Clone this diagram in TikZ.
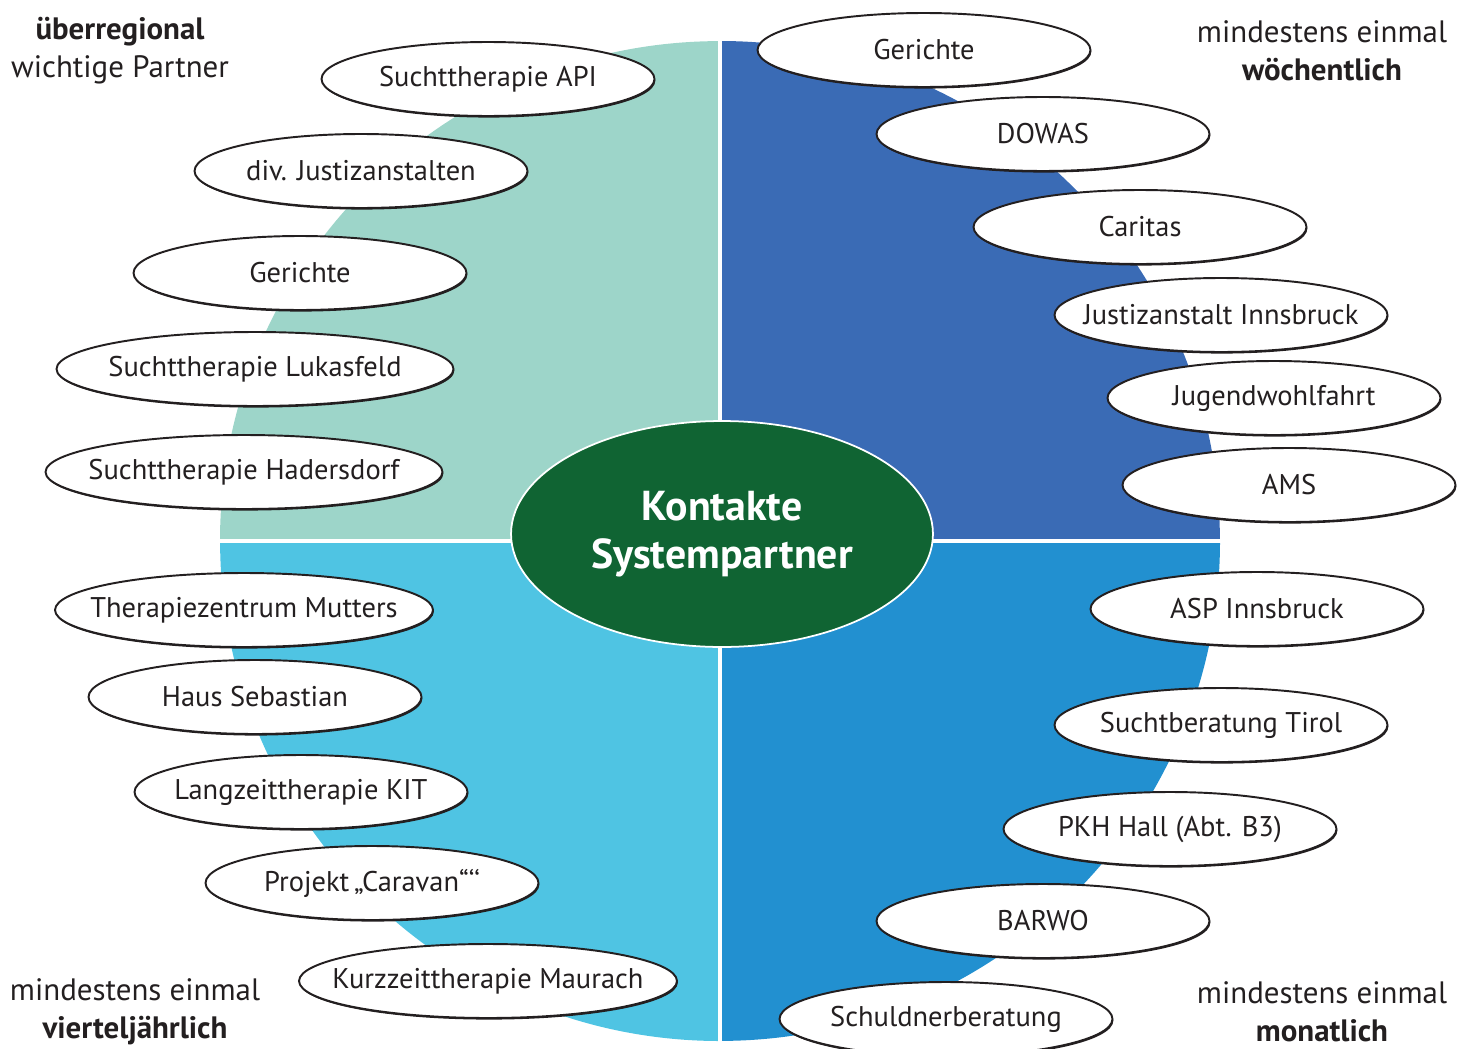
\documentclass[tikz,border=0pt]{standalone}
\usepackage{fontspec}
\setmainfont{PT Sans}
\usepackage{tikz}
\usetikzlibrary{%
  positioning
 ,shapes
 ,shadows
}
\definecolor{qteal}{HTML}{9DD5C9}
\definecolor{qblue}{HTML}{3A6BB5}
\definecolor{qsky}{HTML}{4FC4E3}
\definecolor{qmid}{HTML}{2290D0}
\definecolor{hubgreen}{HTML}{106433}
\definecolor{ink}{HTML}{231F20}
\newcommand{\pn}[1]{\makebox[0pt]{#1}}
\tikzstyle{prt}=[ellipse,draw=ink,line width=1.1pt,fill=white,text=ink,inner sep=0pt,
  minimum width=6.66cm,minimum height=1.48cm,font=\fontsize{16.2}{19}\selectfont,
  drop shadow={shadow xshift=0.5pt,shadow yshift=-0.9pt,opacity=1,fill=ink}]
\tikzstyle{prtw}=[prt,minimum width=7.94cm]
\tikzstyle{prtm}=[prt,minimum width=7.56cm]
\tikzstyle{hub}=[ellipse,draw=white,line width=1pt,fill=hubgreen,text=white,inner sep=0pt,
  minimum width=8.44cm,minimum height=4.52cm,align=center,
  font=\fontsize{23.8}{27.5}\selectfont\bfseries]
\tikzstyle{lbl}=[align=center,text=ink,font=\fontsize{17.6}{21.5}\selectfont]

\begin{document}
\begin{tikzpicture}[x=0.02cm,y=-0.02cm]
      \useasboundingbox (0,0) rectangle (1467,1048);
      % quadrants
      \coordinate (c) at (720,541);
      \fill[qteal] (c) -- ++(-500,0) arc[start angle=180,end angle=90,radius=10cm] -- cycle;
      \fill[qblue] (c) -- ++(0,-500) arc[start angle=90,end angle=0,radius=10cm] -- cycle;
      \fill[qmid] (c) -- ++(500,0) arc[start angle=0,end angle=-90,radius=10cm] -- cycle;
      \fill[qsky] (c) -- ++(0,500) arc[start angle=-90,end angle=-180,radius=10cm] -- cycle;
      \draw[white,line width=2.3pt] (720,30) -- (720,1046);
      \draw[white,line width=2.3pt] (210,541) -- (1230,541);
      % centre
      \node[hub] (kontakte) at (722,534) {Kontakte\\Systempartner};
      % left side
      \node[prt]  (api)  at (488,79)  {\pn{Suchttherapie API}};
      \node[prt]  (div)  at (361,171) {\pn{div. Justizanstalten}};
      \node[prt]  (gerl) at (300,273) {\pn{Gerichte}};
      \node[prtw] (luk)  at (255,369) {\pn{Suchttherapie Lukasfeld}};
      \node[prtw] (had)  at (244,472) {\pn{Suchttherapie Hadersdorf}};
      \node[prtm] (mut)  at (244,610) {\pn{Therapiezentrum Mutters}};
      \node[prt]  (seb)  at (255,697) {\pn{Haus Sebastian}};
      \node[prt]  (kit)  at (301,792) {\pn{Langzeittherapie KIT}};
      \node[prt]  (car)  at (372,883) {\pn{Projekt\,„Caravan“‘‘}};
      \node[prtm] (mau)  at (488,981) {\pn{Kurzzeittherapie Maurach}};
      % right side
      \node[prt] (gerr) at (924,50)   {\pn{Gerichte}};
      \node[prt] (dow)  at (1043,134) {\pn{DOWAS}};
      \node[prt] (cari) at (1140,227) {\pn{Caritas}};
      \node[prt] (jibk) at (1221,315) {\pn{Justizanstalt Innsbruck}};
      \node[prt] (jwf)  at (1274,398) {\pn{Jugendwohlfahrt}};
      \node[prt] (ams)  at (1289,485) {\pn{AMS}};
      \node[prt] (asp)  at (1257,609) {\pn{ASP Innsbruck}};
      \node[prt] (stb)  at (1221,725) {\pn{Suchtberatung Tirol}};
      \node[prt] (pkh)  at (1170,829) {\pn{PKH Hall (Abt. B3)}};
      \node[prt] (bar)  at (1043,921) {\pn{BARWO}};
      \node[prt] (sch)  at (946,1019) {\pn{Schuldnerberatung}};
      % corner labels
      \node[lbl] (ueb) at (120,51)   {\textbf{überregional}\\wichtige Partner};
      \node[lbl] (woe) at (1322,51)  {mindestens einmal\\\textbf{wöchentlich}};
      \node[lbl] (vie) at (135,1012) {mindestens einmal\\\textbf{vierteljährlich}};
      \node[lbl] (mon) at (1322,1012) {mindestens einmal\\\textbf{monatlich}};
    \end{tikzpicture}
\end{document}
